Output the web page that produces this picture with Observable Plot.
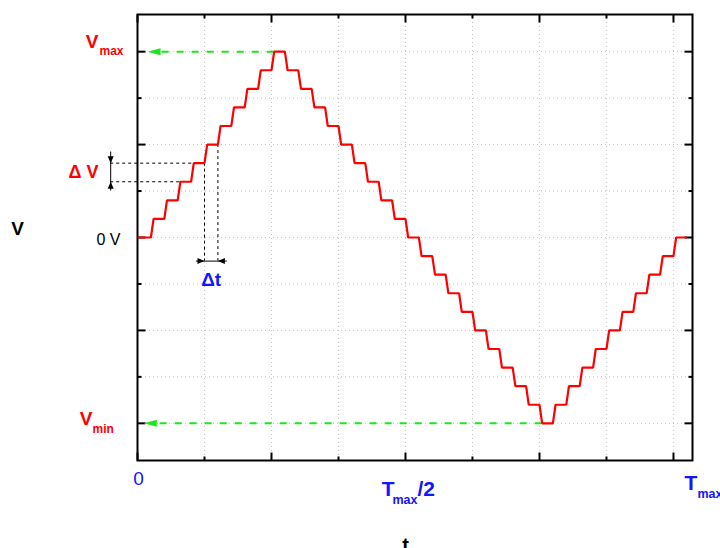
<!DOCTYPE html>
<html>
<head>
<meta charset="utf-8">
<script src="https://cdn.jsdelivr.net/npm/d3@7"></script>
<script src="https://cdn.jsdelivr.net/npm/@observablehq/plot@0.6"></script>
<style>
  body { margin: 0; background: #fff; }
  svg { display: block; }
</style>
</head>
<body>
<div id="chart"></div>
<script>
// Quantised triangle wave: one level per sample interval, in units of ΔV (Vmax = 10 ΔV)
const levels = [0, 1, 2, 3, 4, 5, 6, 7, 8, 9, 10, 9, 8, 7, 6, 5, 4, 3, 2, 1,
                0, -1, -2, -3, -4, -5, -6, -7, -8, -9, -10, -9, -8, -7, -6, -5, -4, -3, -2, -1, 0];
const vMax = 10;
const vMin = -10;
const tMax = 40;            // sample intervals in one period
const riseTime = 0.2;       // part of an interval spent on each transition

const xTicksMajor = [0, 10, 20, 30, 40];
const xTicksMinor = [5, 15, 25, 35];
const yTicksMajor = [-10, -5, 0, 5, 10];
const yTicksMinor = [-7.5, -2.5, 2.5, 7.5];

// Levels and sampling instants picked out by the ΔV and Δt markers
const dvLevels = [3, 4];
const dtSamples = [5, 6];

const RED = "#ff0000";
const BLUE = "#1414ff";
const GREEN = "#1ee61e";
const FONT = "Liberation Sans, Arial, Helvetica, sans-serif";

// Corner points of the staircase: hold each level, then ramp to the next
const wave = [];
levels.forEach((v, k) => {
  wave.push({t: k === 0 ? 0 : k + riseTime, v});
  wave.push({t: k + 1, v});
});

const iMax = levels.indexOf(vMax);
const iMin = levels.indexOf(vMin);

// Annotation geometry (data units)
const dvArrowX = -2;
const dtArrowY = -1.27;
const maxArrowTip = 0.75;
const minArrowTip = 0.47;

const tickShape = {draw(ctx, l) { ctx.moveTo(0, 0); ctx.lineTo(0, -l); }};
const headShape = (w) => ({draw(ctx, l) {
  ctx.moveTo(0, 0); ctx.lineTo(-w, -l); ctx.lineTo(w, -l); ctx.closePath();
}});

function label(text, opts) {
  return Plot.text([text], {text: (d) => d, fontFamily: FONT, lineAnchor: "bottom", ...opts});
}

function ticks(values, along, anchor, length) {
  const rotate = {bottom: 0, top: 180, left: 90, right: -90}[anchor];
  const make = along === "x" ? Plot.vectorX : Plot.vectorY;
  return make(values, {frameAnchor: anchor, length, rotate, anchor: "start", shape: tickShape,
    stroke: "black", strokeWidth: 2, strokeLinecap: "butt"});
}

const grid = {stroke: "#c4c4c4", strokeWidth: 1, strokeDasharray: "1,3"};
const dashed = {stroke: "black", strokeWidth: 1, strokeDasharray: "3,3"};

const chart = Plot.plot({
  width: 720,
  height: 548,
  marginLeft: 137,
  marginRight: 28,
  marginTop: 14,
  marginBottom: 88,
  x: {domain: [0, 41.42], axis: null},
  y: {domain: [-12, 12], axis: null},
  marks: [
    // dotted grid
    Plot.ruleX([...xTicksMinor, ...xTicksMajor.slice(1)], grid),
    Plot.ruleY([...yTicksMinor, ...yTicksMajor], grid),

    // frame with inward ticks on all four sides
    Plot.frame({stroke: "black", strokeWidth: 2}),
    ticks(xTicksMajor, "x", "bottom", 8),
    ticks(xTicksMinor, "x", "bottom", 4),
    ticks(xTicksMajor, "x", "top", 8),
    ticks(xTicksMinor, "x", "top", 4),
    ticks(yTicksMajor, "y", "left", 8),
    ticks(yTicksMinor, "y", "left", 4),
    ticks(yTicksMajor, "y", "right", 8),
    ticks(yTicksMinor, "y", "right", 4),

    // ΔV marker
    Plot.ruleY(dvLevels, {y: (d) => levels[d], x1: dvArrowX, x2: (d) => d + riseTime, ...dashed}),
    Plot.ruleX([dvArrowX], {y1: levels[dvLevels[1]] + 0.6, y2: levels[dvLevels[0]] - 0.5, stroke: "black", strokeWidth: 1}),
    Plot.vector([{v: levels[dvLevels[1]], r: 0}, {v: levels[dvLevels[0]], r: 180}],
      {x: () => dvArrowX, y: "v", rotate: "r", length: 7, anchor: "start", shape: headShape(3), fill: "black", stroke: "none"}),

    // Δt marker
    Plot.ruleX(dtSamples, {x: (d) => d, y1: (d) => levels[d - 1], y2: dtArrowY, ...dashed}),
    Plot.ruleY([dtArrowY], {x1: dtSamples[0] - 0.6, x2: dtSamples[1] + 0.7, stroke: "black", strokeWidth: 1}),
    Plot.vector([{t: dtSamples[0], r: -90}, {t: dtSamples[1], r: 90}],
      {x: "t", y: () => dtArrowY, rotate: "r", length: 7, anchor: "start", shape: headShape(3), fill: "black", stroke: "none"}),

    // peak and trough guides
    Plot.ruleY([vMax], {x1: iMax + riseTime, x2: maxArrowTip + 0.9, stroke: GREEN, strokeWidth: 2, strokeDasharray: "7,8"}),
    Plot.ruleY([vMin], {x1: iMin + riseTime, x2: minArrowTip + 0.9, stroke: GREEN, strokeWidth: 2, strokeDasharray: "7,8"}),
    Plot.vector([{t: maxArrowTip, v: vMax}, {t: minArrowTip, v: vMin}],
      {x: "t", y: "v", rotate: 90, length: 13, anchor: "start", shape: headShape(3.5), fill: GREEN, stroke: "none"}),

    // the sampled waveform
    Plot.line(wave, {x: "t", y: "v", stroke: RED, strokeWidth: 2.2, strokeLinejoin: "miter", strokeLinecap: "butt"}),

    // left-side labels
    label("V", {y: () => vMax, frameAnchor: "left", textAnchor: "end", dx: -39, dy: -4, fontSize: 19, fontWeight: "bold", fill: RED}),
    label("max", {y: () => vMax, frameAnchor: "left", textAnchor: "start", dx: -38, dy: 3, fontSize: 12, fontWeight: "bold", fill: RED}),
    label("V", {y: () => vMin, frameAnchor: "left", textAnchor: "end", dx: -45, dy: 2, fontSize: 19, fontWeight: "bold", fill: RED}),
    label("min", {y: () => vMin, frameAnchor: "left", textAnchor: "start", dx: -45, dy: 10, fontSize: 12, fontWeight: "bold", fill: RED}),
    label("Δ V", {y: () => (levels[dvLevels[0]] + levels[dvLevels[1]]) / 2, frameAnchor: "left", textAnchor: "middle", lineAnchor: "middle", dx: -54, fontSize: 18, fontWeight: "bold", fill: RED}),
    label("0 V", {y: () => 0, frameAnchor: "left", textAnchor: "end", lineAnchor: "middle", dx: -17, dy: 2, fontSize: 16, fill: "black"}),
    label("V", {y: () => 0, frameAnchor: "left", textAnchor: "middle", lineAnchor: "middle", dx: -120, dy: -9, fontSize: 19, fontWeight: "bold", fill: "black"}),

    // Δt label
    label("Δt", {x: () => (dtSamples[0] + dtSamples[1]) / 2, y: () => dtArrowY, textAnchor: "middle", dy: 25, fontSize: 19, fontWeight: "bold", fill: BLUE}),

    // time-axis labels
    label("0", {x: () => 0, frameAnchor: "bottom", textAnchor: "middle", dx: 1, dy: 24, fontSize: 19, fill: BLUE}),
    label("T", {x: () => tMax / 2, frameAnchor: "bottom", textAnchor: "end", dx: -11, dy: 35, fontSize: 21, fontWeight: "bold", fill: BLUE}),
    label("max", {x: () => tMax / 2, frameAnchor: "bottom", textAnchor: "start", dx: -13, dy: 43, fontSize: 12.5, fontWeight: "bold", fill: BLUE}),
    label("/2", {x: () => tMax / 2, frameAnchor: "bottom", textAnchor: "start", dx: 12, dy: 35, fontSize: 21, fontWeight: "bold", fill: BLUE}),
    label("T", {x: () => tMax, frameAnchor: "bottom", textAnchor: "start", dx: 11, dy: 29, fontSize: 21, fontWeight: "bold", fill: BLUE}),
    label("max", {x: () => tMax, frameAnchor: "bottom", textAnchor: "start", dx: 24, dy: 37, fontSize: 12.5, fontWeight: "bold", fill: BLUE}),
    label("t", {x: () => tMax / 2, frameAnchor: "bottom", textAnchor: "middle", dy: 91, fontSize: 20, fontWeight: "bold", fill: "black"})
  ]
});

document.getElementById("chart").appendChild(chart);
</script>
</body>
</html>
